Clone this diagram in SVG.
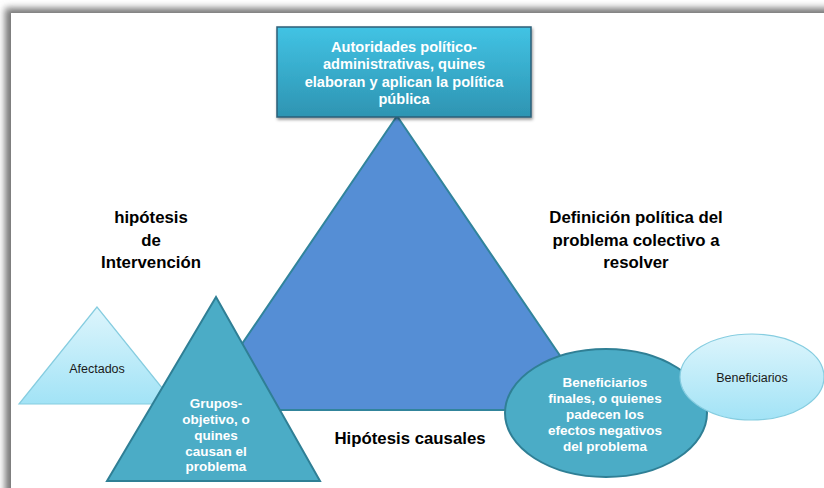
<svg xmlns="http://www.w3.org/2000/svg" width="824" height="488" viewBox="0 0 824 488">
<defs>
<style>
.lbl{font-family:"Liberation Sans",Arial,sans-serif;font-weight:bold;font-size:16.8px;fill:#000;text-anchor:middle}
.wt{font-family:"Liberation Sans",Arial,sans-serif;font-weight:bold;font-size:13.5px;fill:#fff;text-anchor:middle}
.wtop{font-family:"Liberation Sans",Arial,sans-serif;font-weight:bold;font-size:14.6px;fill:#fff;text-anchor:middle}
.dk{font-family:"Liberation Sans",Arial,sans-serif;font-size:12.5px;fill:#1a1a1a;text-anchor:middle}
.teal{fill:#4BACC6;stroke:#2F7F95;stroke-width:2}
.light{fill:url(#lg);stroke:#86CDE0;stroke-width:1.2}
</style>
<linearGradient id="lg" x1="0" y1="0" x2="0" y2="1">
<stop offset="0" stop-color="#DDF5FC"/>
<stop offset="1" stop-color="#A2E3F6"/>
</linearGradient>
<linearGradient id="rg" x1="0" y1="0" x2="0" y2="1">
<stop offset="0" stop-color="#41C3E4"/>
<stop offset="1" stop-color="#2E94B2"/>
</linearGradient>
<filter id="frameShadow" x="-5%" y="-5%" width="110%" height="110%">
<feGaussianBlur stdDeviation="3.5"/>
</filter>
<filter id="sh" x="-10%" y="-10%" width="120%" height="130%">
<feDropShadow dx="1" dy="2" stdDeviation="1.5" flood-color="#000" flood-opacity="0.4"/>
</filter>
</defs>
<rect x="0" y="0" width="824" height="488" fill="#fff"/>
<rect x="5" y="8" width="840" height="500" fill="#777" filter="url(#frameShadow)"/>
<rect x="11" y="13" width="830" height="500" fill="#fff"/>

<g id="triangulo-central">
<polygon points="397,116 197,410 597,410" fill="#558ED5" stroke="#31849B" stroke-width="2"/>
</g>

<g id="autoridades">
<rect x="277" y="27" width="254" height="90" fill="url(#rg)" stroke="#2C5F78" stroke-width="1.5" filter="url(#sh)"/>
<text class="wtop" x="404" y="52">Autoridades político-</text>
<text class="wtop" x="404" y="69">administrativas, quines</text>
<text class="wtop" x="404" y="87">elaboran y aplican la política</text>
<text class="wtop" x="404" y="104">pública</text>
</g>

<g id="hipotesis-intervencion">
<text class="lbl" x="151" y="223">hipótesis</text>
<text class="lbl" x="151" y="246">de</text>
<text class="lbl" x="151" y="268">Intervención</text>
</g>

<g id="definicion-politica">
<text class="lbl" x="636" y="223">Definición política del</text>
<text class="lbl" x="636" y="246">problema colectivo a</text>
<text class="lbl" x="636" y="268">resolver</text>
</g>

<g id="hipotesis-causales">
<text class="lbl" x="410" y="444">Hipótesis causales</text>
</g>

<g id="afectados">
<polygon class="light" points="97,307 19,404 175,404"/>
<text class="dk" x="97" y="373">Afectados</text>
</g>

<g id="grupos-objetivo">
<polygon class="teal" points="216,297 107,481 320,481"/>
<text class="wt" x="216" y="408">Grupos-</text>
<text class="wt" x="216" y="424">objetivo, o</text>
<text class="wt" x="216" y="440">quines</text>
<text class="wt" x="216" y="456">causan el</text>
<text class="wt" x="216" y="471">problema</text>
</g>

<g id="beneficiarios-finales">
<ellipse class="teal" cx="606" cy="413" rx="101" ry="64"/>
<text class="wt" x="605" y="387">Beneficiarios</text>
<text class="wt" x="605" y="403">finales, o quienes</text>
<text class="wt" x="605" y="419">padecen los</text>
<text class="wt" x="605" y="435">efectos negativos</text>
<text class="wt" x="605" y="451">del problema</text>
</g>

<g id="beneficiarios">
<ellipse class="light" cx="752" cy="377" rx="72" ry="43"/>
<text class="dk" x="752" y="382">Beneficiarios</text>
</g>
</svg>
